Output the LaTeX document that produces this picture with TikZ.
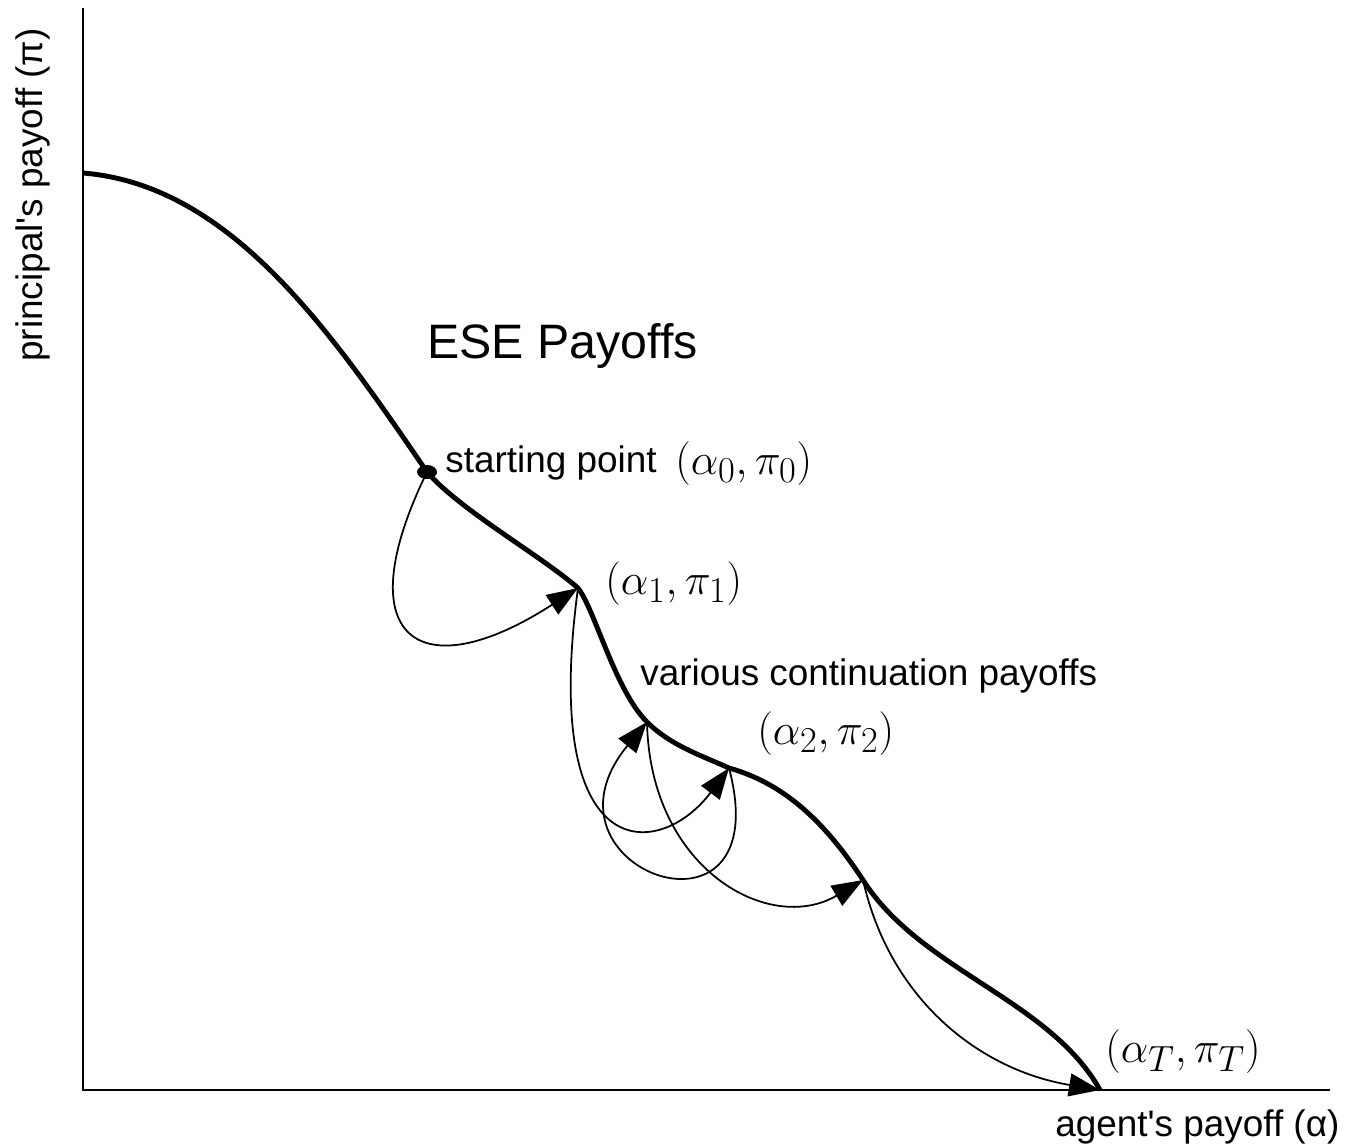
\documentclass[tikz,border=0pt]{standalone}
\usepackage{fontspec}
\setmainfont{Liberation Sans}
\usetikzlibrary{arrows.meta}

\begin{document}
\begin{tikzpicture}[x=0.02cm, y=-0.02cm,
    axis/.style={line width=1.1pt},
    frontier/.style={line width=2.8pt, line join=round},
    move/.style={line width=1pt, -{Triangle[length=0.62cm, width=0.46cm]}},
    txt/.style={anchor=base west, inner sep=0pt, font=\fontsize{21}{25}\selectfont},
    pay/.style={anchor=base west, inner sep=0pt, font=\fontsize{24.88}{30}\selectfont}]
        \useasboundingbox (0,0) rectangle (1346,1146);

        % Axes
        \coordinate (origin) at (83,1090);
        \coordinate (ytop) at (83,8);
        \coordinate (xend) at (1330,1090);
        \draw[axis] (ytop) -- (origin) -- (xend);
        \node[txt, rotate=90] (ylab) at (42,362) {principal\textquotesingle s payoff (π)};
        \node[txt] (xlab) at (1055,1136) {agent\textquotesingle s payoff (α)};

        % Points on the frontier
        \coordinate (top) at (83,173);
        \coordinate (p0) at (427,472);
        \coordinate (p1) at (578,588);
        \coordinate (p2) at (647,722);
        \coordinate (p3) at (729,768);
        \coordinate (p4) at (863,880);
        \coordinate (pT) at (1100,1090);

        % Frontier of ESE payoffs
        \draw[frontier] (top) .. controls (230,185) and (330,330) .. (p0)
            .. controls (460,510) and (540,555) .. (p1)
            .. controls (595,610) and (615,690) .. (p2)
            .. controls (670,745) and (700,755) .. (p3)
            .. controls (790,785) and (830,830) .. (p4)
            .. controls (920,970) and (1050,1000) .. (pT);
        \fill (p0) ellipse (10 and 7);

        % Continuation moves
        \draw[move] (p0) .. controls (345,640) and (420,690) .. (p1);
        \draw[move] (p1) .. controls (540,870) and (660,860) .. (p3);
        \draw[move] (p3) .. controls (780,960) and (525,870) .. (p2);
        \draw[move] (p2) .. controls (650,870) and (770,935) .. (p4);
        \draw[move] (p4) .. controls (890,1000) and (980,1070) .. (pT);

        % Labels
        \node[anchor=base west, inner sep=0pt, font=\fontsize{27.5}{32}\selectfont] (ese) at (427,358) {ESE Payoffs};
        \node[txt] (start) at (445,472) {starting point};
        \node[pay] (l0) at (675,474) {$(\alpha_0,\pi_0)$};
        \node[pay] (l1) at (605,594) {$(\alpha_1,\pi_1)$};
        \node[txt] (cont) at (640,685) {various continuation payoffs};
        \node[pay] (l2) at (757,744) {$(\alpha_2,\pi_2)$};
        \node[pay] (lT) at (1105,1062) {$(\alpha_T,\pi_T)$};

    \end{tikzpicture}
\end{document}
